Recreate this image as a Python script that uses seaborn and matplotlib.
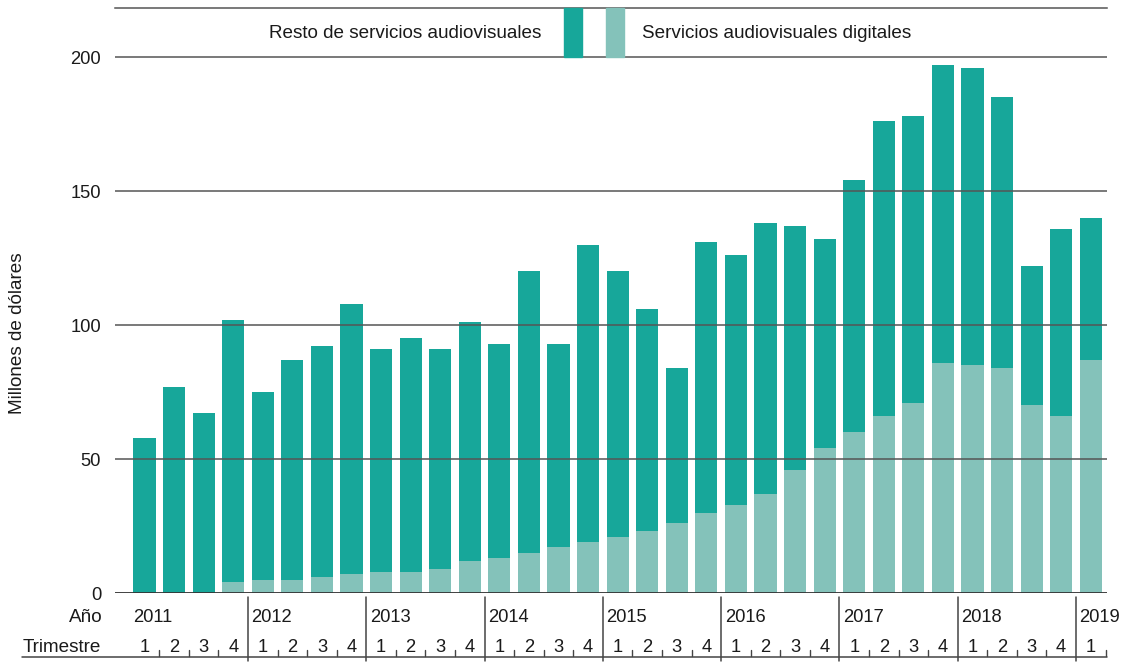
import matplotlib
matplotlib.use("Agg")
import matplotlib.pyplot as plt
import seaborn as sns
import pandas as pd
import numpy as np
from matplotlib.lines import Line2D
from matplotlib.patches import Rectangle

years = ["2011", "2012", "2013", "2014", "2015", "2016", "2017", "2018", "2019"]
quarters = ["1", "2", "3", "4"] * 8 + ["1"]
total = [58, 77, 67, 102, 75, 87, 92, 108, 91, 95, 91, 101, 93, 120, 93, 130,
         120, 106, 84, 131, 126, 138, 137, 132, 154, 176, 178, 197, 196, 185, 122, 136, 140]
digital = [0, 0, 0, 4, 5, 5, 6, 7, 8, 8, 9, 12, 13, 15, 17, 19,
           21, 23, 26, 30, 33, 37, 46, 54, 60, 66, 71, 86, 85, 84, 70, 66, 87]
resto = [t - d for t, d in zip(total, digital)]
labels = ["Resto de servicios audiovisuales", "Servicios audiovisuales digitales"]
ylabel = "Millones de dólares"

DARK = "#17A79A"
LIGHT = "#84C2BA"
GRID = "#555555"
TXT = "#1a1a1a"
FS = 13.6
FSN = 13.2

sns.set_theme(style="white")
plt.rcParams["font.family"] = ["Liberation Sans", "DejaVu Sans"]

W, H = 1127, 662
fig = plt.figure(figsize=(W / 100, H / 100), dpi=100)
ax_left, ax_right, ax_bottom, ax_top = 115, 1107, 593, 8
ax = fig.add_axes([ax_left / W, 1 - ax_bottom / H, (ax_right - ax_left) / W, (ax_bottom - ax_top) / H])

n = len(total)
cats = [f"{i}" for i in range(n)]
df = pd.DataFrame({"idx": cats, "total": [r + d for r, d in zip(resto, digital)], "digital": digital})

sns.barplot(data=df, x="idx", y="total", color=DARK, width=0.75, saturation=1, ax=ax,
            linewidth=0, order=cats)
sns.barplot(data=df, x="idx", y="digital", color=LIGHT, width=0.75, saturation=1, ax=ax,
            linewidth=0, order=cats)

ymax = (ax_bottom - ax_top) / 2.68
ax.set_ylim(0, ymax)
ax.set_xlim(-1.0, 32.55)
ax.set_yticks([0, 50, 100, 150, 200])
ax.set_yticklabels(["0", "50", "100", "150", "200"], fontsize=FSN, color=TXT)
ax.tick_params(axis="y", length=0, pad=10)
ax.set_xticks([])
ax.set_xlabel("")
ax.set_ylabel("")
for y in [50, 100, 150, 200]:
    ax.axhline(y, color=GRID, lw=1.1, zorder=3)
ax.axhline(0, color="#333333", lw=1.3, zorder=3)
for s in ["left", "right", "bottom"]:
    ax.spines[s].set_visible(False)
ax.spines["top"].set_visible(True)
ax.spines["top"].set_color(GRID)
ax.spines["top"].set_linewidth(1.1)

def ay(py):
    return (ax_bottom - py) / (ax_bottom - ax_top)

tr_fig = fig.transFigure
fig.text(541 / W, 1 - 33 / H, labels[0], ha="right", va="center", fontsize=FS, color=TXT)
fig.text(642 / W, 1 - 33 / H, labels[1], ha="left", va="center", fontsize=FS, color=TXT)
fig.patches.append(Rectangle((564 / W, 1 - 57 / H), 18 / W, 49 / H, transform=tr_fig,
                             color=DARK, zorder=5))
fig.patches.append(Rectangle((606 / W, 1 - 57 / H), 18 / W, 49 / H, transform=tr_fig,
                             color=LIGHT, zorder=5))

fig.text(18 / W, 1 - 333 / H, ylabel, rotation=90, ha="center", va="center", fontsize=FS,
         color=TXT)

blend = ax.get_xaxis_transform()
fig.text(103 / W, 1 - 617 / H, "Año", ha="right", va="center", fontsize=FS, color=TXT)
fig.text(101 / W, 1 - 647 / H, "Trimestre", ha="right", va="center", fontsize=FS, color=TXT)
for k, yr in enumerate(years):
    i0 = 4 * k
    ax.text(i0 - 0.38, ay(617), yr, transform=blend, ha="left", va="center", fontsize=FSN,
            color=TXT, clip_on=False)
    if k > 0:
        ax.add_line(Line2D([i0 - 0.5, i0 - 0.5], [ay(597), ay(661)], transform=blend,
                           color="#444444", lw=1.1, clip_on=False))
for i, q in enumerate(quarters):
    ax.text(i, ay(647), q, transform=blend, ha="center", va="center", fontsize=FSN,
            color=TXT, clip_on=False)
    if quarters[i] != "4":
        ax.add_line(Line2D([i + 0.5, i + 0.5], [ay(650), ay(656)], transform=blend,
                           color="#444444", lw=1.0, clip_on=False))
fig.lines.append(Line2D([22 / W, 1107 / W], [1 - 657 / H, 1 - 657 / H], transform=tr_fig,
                        color="#444444", lw=1.1))

fig.savefig("out.png", dpi=100)
